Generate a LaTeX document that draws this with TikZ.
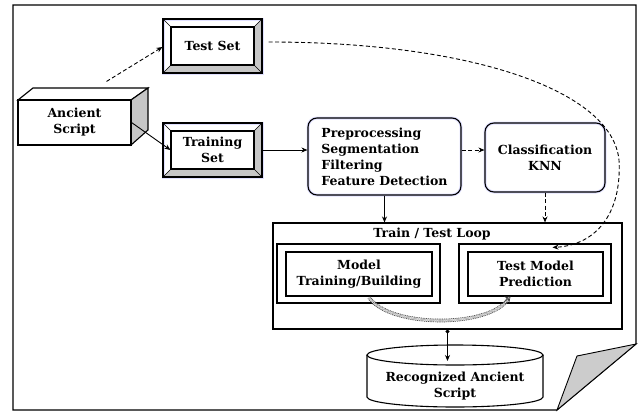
\documentclass[tikz,border=0pt]{standalone}
\usepackage{fontspec}
\setmainfont{DejaVu Serif}
\usetikzlibrary{arrows.meta,calc}

\tikzset{
  boxtext/.style={font=\fontsize{12.5}{16}\selectfont\bfseries, align=center},
  innerframe/.style={draw, line width=1.1pt, boxtext, inner sep=0pt},
  roundbox/.style={draw, line width=1.1pt, rounded corners=9pt, boxtext, inner sep=0pt,
    preaction={draw=blue!12, line width=3pt}},
  flow/.style={-{Stealth[length=6pt,width=5pt]}, line width=0.9pt},
  dashflow/.style={flow, dash pattern=on 4pt off 2.5pt},
  loopback/.style={draw=gray!50!black, double=gray!30, double distance=2.2pt, line width=0.7pt,
    dash pattern=on 1pt off 0.8pt},
  looptip/.style={draw=gray!50!black, line width=0.7pt, -{Stealth[open,length=5pt,width=8pt]}},
}

% bevelled frame: x1, y1, x2, y2, inset
\newcommand{\bevelframe}[5]{%
  \fill[gray!45] (#3,#2) -- (#3,#4) -- (#1,#4) -- (#1+#5,#4-#5) -- (#3-#5,#4-#5) -- (#3-#5,#2+#5) -- cycle;
  \draw[preaction={draw=blue!12, line width=3pt}, line width=1.1pt] (#1,#2) rectangle (#3,#4);
  \draw[line width=0.6pt] (#1,#2) -- (#1+#5,#2+#5) (#3,#2) -- (#3-#5,#2+#5)
    (#1,#4) -- (#1+#5,#4-#5) (#3,#4) -- (#3-#5,#4-#5);
}

\begin{document}
\begin{tikzpicture}[x=1pt, y=-1pt]
    \useasboundingbox (0,0) rectangle (643,413);

    % Page with folded corner
    \draw[line width=1.1pt] (13,5) -- (636,5) -- (636,344) -- (557,410) -- (13,410) -- cycle;
    \draw[line width=0.9pt, fill=gray!40] (636,344) -- (577,356) -- (557,410) -- cycle;

    % Ancient script (3D box)
    \draw[line width=1.1pt, fill=white] (18,100) -- (33,88) -- (148,88) -- (131,100) -- cycle;
    \draw[line width=1.1pt, fill=gray!45] (131,100) -- (148,88) -- (148,130) -- (131,145) -- cycle;
    \node[innerframe, minimum width=113pt, minimum height=45pt, fill=white] (ancient) at (74.5,122.5) {Ancient\\Script};

    % Test set and training set
    \bevelframe{163}{19}{262}{73}{8}
    \node[innerframe, minimum width=83pt, minimum height=38pt] (testset) at (212.5,46) {Test Set};
    \bevelframe{163}{123}{262}{177}{8}
    \node[innerframe, minimum width=83pt, minimum height=38pt] (training) at (212.5,150) {Training\\Set};

    % Processing and classification
    \node[roundbox, align=left, minimum width=153pt, minimum height=77pt] (prep) at (384.5,156.5)
        {Preprocessing\\Segmentation\\Filtering\\Feature Detection};
    \node[roundbox, minimum width=120pt, minimum height=69pt] (class) at (545,157.5) {Classification\\KNN};

    % Train / test loop
    \node[draw, line width=1.1pt, minimum width=349pt, minimum height=106pt] (loop) at (447.5,276) {};
    \node[boxtext] (looptitle) at (432,234) {Train / Test Loop};
    \draw[line width=1.1pt] (277,244) rectangle (440,303);
    \node[innerframe, minimum width=146pt, minimum height=44pt] (model) at (359,274) {Model\\Training/Building};
    \draw[line width=1.1pt] (459,244) rectangle (611,303);
    \node[innerframe, minimum width=135pt, minimum height=44pt] (pred) at (535.5,274) {Test Model\\Prediction};

    % Recognized ancient script (cylinder)
    \draw[line width=1.1pt, fill=white] (367,355) -- (367,397) arc[start angle=180, end angle=0, x radius=88, y radius=10] -- (543,355);
    \draw[line width=1.1pt] (455,355) ellipse [x radius=88, y radius=10];
    \node[boxtext] (result) at (455,386) {Recognized Ancient\\Script};
    \coordinate (resulttop) at (447.5,361);

    % Connectors
    \draw[dashflow] ($(ancient.north)+(32,-18)$) -- ($(testset.west)+(-8,1)$);
    \draw[flow] (ancient.east) -- (training.west);
    \draw[flow] ($(training.east)+(8,0)$) -- (prep.west |- training.east);
    \draw[dashflow] (prep.east |- training.east) -- (class.west |- training.east);
    \draw[flow] (prep.south) -- (prep.south |- loop.north);
    \draw[dashflow] (class.south) -- (class.south |- loop.north);
    \draw[dashflow] ($(testset.east)+(14,-4)$) .. controls (470,42) and (612,90) .. (619,160)
        .. controls (622,215) and (595,245) .. ($(pred.north)+(17,-4)$);
    \draw[loopback] ($(model.south)+(10,1)$) .. controls (390,328) and (490,328) .. ($(pred.south)+(-27,2)$);
    \draw[looptip] ($(pred.south)+(-31,5)$) -- ($(pred.south)+(-25,0)$);
    \draw[flow, {Circle[length=4pt]}-{Stealth[length=6pt,width=5pt]}] (loop.south) -- (resulttop);
\end{tikzpicture}
\end{document}
